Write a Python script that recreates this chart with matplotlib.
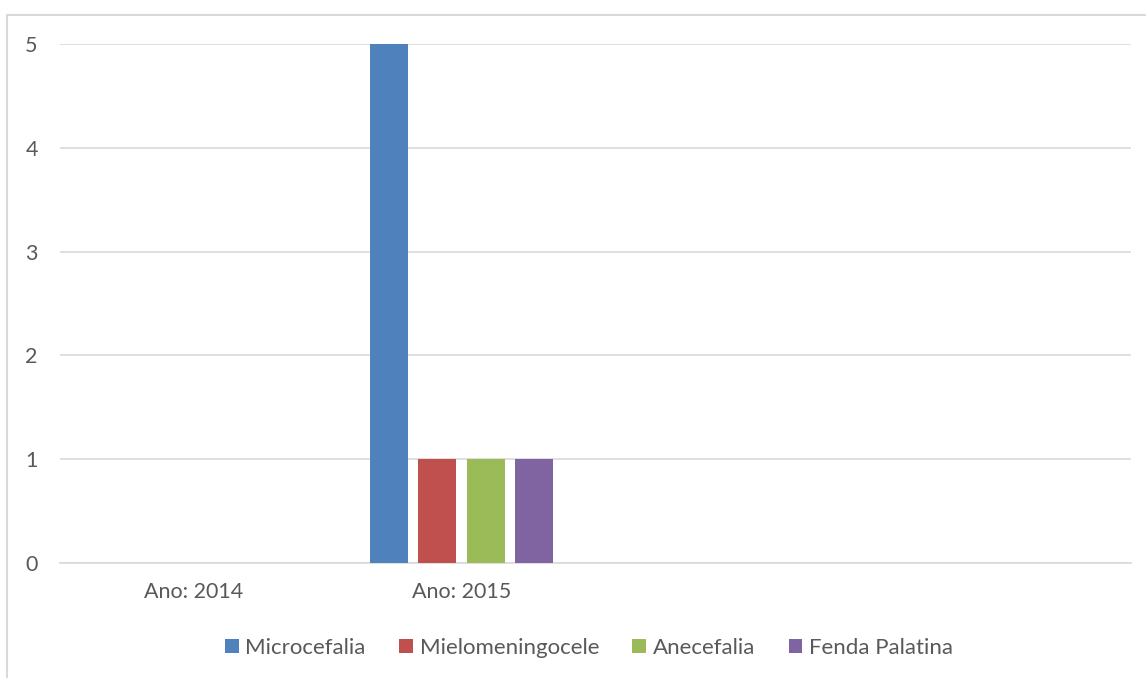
import matplotlib.pyplot as plt
from matplotlib.patches import Rectangle
import numpy as np

plt.rcParams['font.family'] = ['Lato', 'DejaVu Sans']

categorias = ["Ano: 2014", "Ano: 2015", "", ""]
series = ["Microcefalia", "Mielomeningocele", "Anecefalia", "Fenda Palatina"]
microcefalia = [0, 5, 0, 0]
mielomeningocele = [0, 1, 0, 0]
anecefalia = [0, 1, 0, 0]
fenda_palatina = [0, 1, 0, 0]
valores = [microcefalia, mielomeningocele, anecefalia, fenda_palatina]
cores = ['#4F81BD', '#C0504D', '#9BBB59', '#8064A2']

texto = '#595959'
grade = '#d9d9d9'

fig = plt.figure(figsize=(11.46, 6.78), dpi=100)
ax = fig.add_axes([60 / 1146, 1 - 563 / 678, 1071 / 1146, 519 / 678])

# moldura do grafico (estilo Excel, sai para fora da imagem)
fig.patches.append(Rectangle((7 / 1146, -0.1), 1.2, 1 - 15 / 678 + 0.1,
                             transform=fig.transFigure, fill=False,
                             edgecolor=grade, linewidth=1.5))

x = np.arange(len(categorias)) + 0.5
largura = 0.142
passo = 0.181
offsets = (np.arange(len(series)) - 1.5) * passo

for i, nome in enumerate(series):
    ax.bar(x + offsets[i], valores[i], largura, color=cores[i], label=nome, zorder=3)

ax.set_xlim(0, len(categorias))
ax.set_ylim(0, 5)
ax.set_yticks(range(0, 6))
ax.set_xticks(x)
ax.set_xticklabels(categorias)
ax.yaxis.grid(True, color=grade, linewidth=1.2, zorder=0)
for s in ['top', 'right', 'left']:
    ax.spines[s].set_visible(False)
ax.spines['bottom'].set_color(grade)
ax.spines['bottom'].set_linewidth(1.2)
ax.tick_params(axis='both', length=0, colors=texto, labelsize=15.5)
ax.tick_params(axis='y', pad=16)
ax.tick_params(axis='x', pad=14)

fig.legend(loc='center', bbox_to_anchor=(0.514, 1 - 648 / 678), ncol=4,
           frameon=False, fontsize=16, labelcolor=texto,
           handlelength=0.62, handleheight=0.62, handletextpad=0.3,
           columnspacing=1.5)

fig.savefig('out.png', dpi=100)
